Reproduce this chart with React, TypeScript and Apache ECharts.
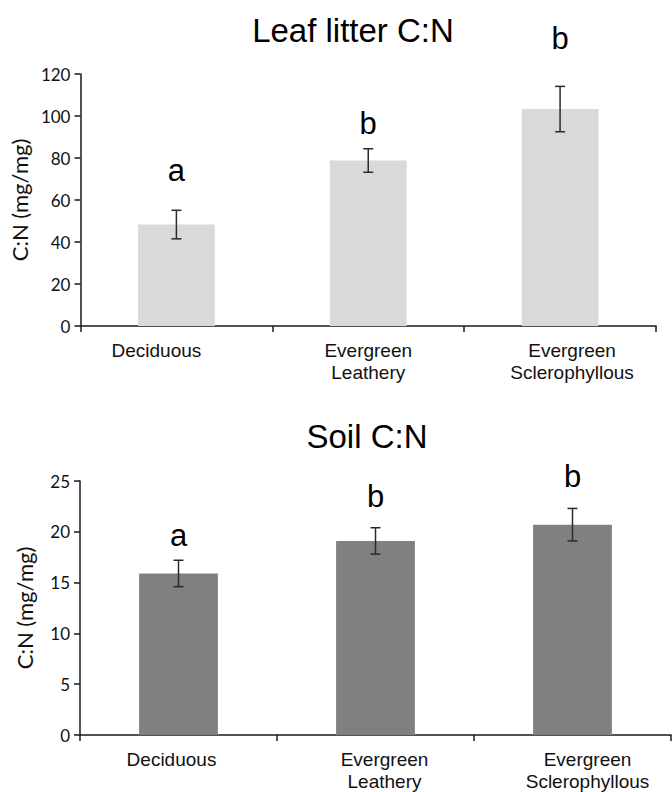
import React, { useEffect, useRef } from "react";
import * as echarts from "echarts";

const categories = ["Deciduous", "Evergreen\nLeathery", "Evergreen\nSclerophyllous"];

const leafMeans = [48.3, 78.8, 103.3];
const leafErrors = [6.8, 5.6, 10.8];
const leafLetters = ["a", "b", "b"];

const soilMeans = [15.9, 19.1, 20.7];
const soilErrors = [1.3, 1.3, 1.6];
const soilLetters = ["a", "b", "b"];

const leafTitle = "Leaf litter C:N";
const soilTitle = "Soil C:N";
const yName = "C:N (mg/mg)";

// styling: pixel gaps of the letters above the error bars, horizontal label shifts
const leafGaps = [40, 25, 48];
const soilGaps = [25, 31, 32];
const leafLabelShift = [-20, 0, 12];
const soilLabelShift = [-7, 9, 15];

const SANS = "'Liberation Sans', Arial, sans-serif";
const TICKFONT = "Lato, 'Open Sans', sans-serif";

function errorSeries(means: number[], errs: number[], letters: string[], gaps: number[], idx: number) {
  return {
    type: "custom",
    xAxisIndex: idx,
    yAxisIndex: idx,
    clip: false,
    z: 5,
    data: means.map((m, i) => [i, m, errs[i]]),
    renderItem: (params: any, api: any) => {
      const i = api.value(0);
      const m = api.value(1);
      const e = api.value(2);
      const top = api.coord([i, m + e]);
      const bot = api.coord([i, m - e]);
      const hw = 5;
      const st = { stroke: "#2a2a2a", lineWidth: 1.5 };
      return {
        type: "group",
        children: [
          { type: "line", shape: { x1: top[0], y1: top[1], x2: bot[0], y2: bot[1] }, style: st },
          { type: "line", shape: { x1: top[0] - hw, y1: top[1], x2: top[0] + hw, y2: top[1] }, style: st },
          { type: "line", shape: { x1: bot[0] - hw, y1: bot[1], x2: bot[0] + hw, y2: bot[1] }, style: st },
          {
            type: "text",
            x: top[0],
            y: top[1] - gaps[params.dataIndex],
            style: {
              text: letters[params.dataIndex],
              fontSize: 31,
              fontFamily: SANS,
              fill: "#000",
              align: "center",
              verticalAlign: "middle",
            },
          },
        ],
      };
    },
  };
}

function xAxis(idx: number, shifts: number[]) {
  const rich: Record<string, any> = {};
  shifts.forEach((s, i) => {
    rich["c" + i] = {
      fontSize: 19,
      fontFamily: SANS,
      color: "#111",
      lineHeight: 22,
      padding: s >= 0 ? [0, 0, 0, 2 * s] : [0, -2 * s, 0, 0],
    };
  });
  return {
    type: "category",
    gridIndex: idx,
    data: categories,
    boundaryGap: true,
    axisLine: { lineStyle: { color: "#1a1a1a", width: 1.5 } },
    axisTick: { show: true, inside: false, length: 6, lineStyle: { color: "#1a1a1a", width: 1.5 } },
    axisLabel: {
      fontSize: 19,
      fontFamily: SANS,
      color: "#111",
      lineHeight: 22,
      margin: 13,
      interval: 0,
      formatter: (v: string, i: number) =>
        v
          .split("\n")
          .map((line) => `{c${i}|${line}}`)
          .join("\n"),
      rich,
    },
  };
}

function yAxis(idx: number, max: number, interval: number) {
  return {
    type: "value",
    gridIndex: idx,
    min: 0,
    max,
    interval,
    name: yName,
    nameLocation: "middle",
    nameGap: 45,
    nameRotate: 90,
    nameTextStyle: { fontSize: 22, fontFamily: TICKFONT, color: "#111" },
    splitLine: { show: false },
    axisLine: { show: true, lineStyle: { color: "#1a1a1a", width: 1.5 } },
    axisTick: { show: true, inside: false, length: 6, lineStyle: { color: "#1a1a1a", width: 1.5 } },
    axisLabel: { fontSize: 17, fontFamily: TICKFONT, color: "#111", margin: 10 },
  };
}

export default function App() {
  const ref = useRef<HTMLDivElement>(null);
  useEffect(() => {
    if (!ref.current) return;
    const chart = echarts.init(ref.current, undefined, { renderer: "svg" });
    chart.setOption({
      animation: false,
      backgroundColor: "#ffffff",
      title: [
        {
          text: leafTitle,
          left: 348,
          top: 9,
          textAlign: "center",
          textStyle: { fontSize: 33, fontWeight: "normal", fontFamily: SANS, color: "#000" },
        },
        {
          text: soilTitle,
          left: 362,
          top: 415,
          textAlign: "center",
          textStyle: { fontSize: 33, fontWeight: "normal", fontFamily: SANS, color: "#000" },
        },
      ],
      grid: [
        { left: 80, right: 16, top: 74, height: 252 },
        { left: 80, right: 1, top: 481, height: 255 },
      ],
      xAxis: [xAxis(0, leafLabelShift), xAxis(1, soilLabelShift)],
      yAxis: [yAxis(0, 120, 20), yAxis(1, 25, 5)],
      series: [
        {
          type: "bar",
          xAxisIndex: 0,
          yAxisIndex: 0,
          data: leafMeans,
          barWidth: "40%",
          itemStyle: { color: "#d9d9d9" },
        },
        errorSeries(leafMeans, leafErrors, leafLetters, leafGaps, 0),
        {
          type: "bar",
          xAxisIndex: 1,
          yAxisIndex: 1,
          data: soilMeans,
          barWidth: "40%",
          itemStyle: { color: "#808080" },
        },
        errorSeries(soilMeans, soilErrors, soilLetters, soilGaps, 1),
      ],
    });
    return () => chart.dispose();
  }, []);
  return (
    <div
      ref={ref}
      style={{ position: "fixed", left: 0, top: 0, width: 672, height: 792, background: "#fff" }}
    />
  );
}
